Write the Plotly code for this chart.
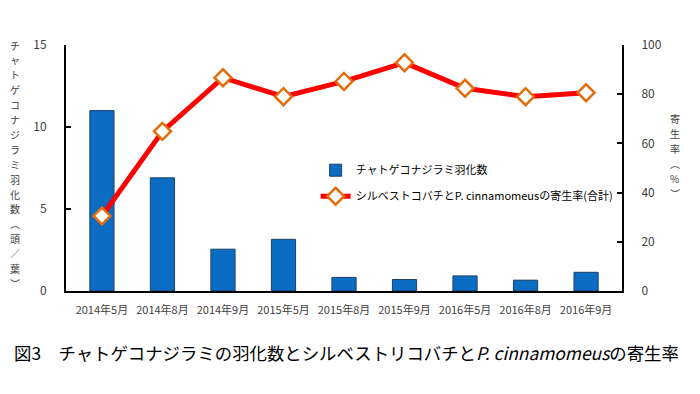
import plotly.graph_objects as go

categories = ["2014年5月", "2014年8月", "2014年9月", "2015年5月", "2015年8月",
              "2015年9月", "2016年5月", "2016年8月", "2016年9月"]
emergence = [11.0, 6.9, 2.55, 3.15, 0.83, 0.7, 0.92, 0.66, 1.14]
parasitism = [30.5, 64.9, 86.7, 79.0, 85.2, 92.8, 82.4, 79.0, 80.6]

bar_name = "チャトゲコナジラミ羽化数"
line_name = "シルベストコバチとP. cinnamomeusの寄生率(合計)"
left_title = list("チャトゲコナジラミ羽化数︵頭／葉︶")
right_title = list("寄生率︵%︶")
caption = "図3　チャトゲコナジラミの羽化数とシルベストリコバチと<i>P. cinnamomeus</i>の寄生率"

FONT = "Noto Sans CJK JP"
TICK = "#404040"

fig = go.Figure()
fig.add_trace(go.Bar(
    x=categories, y=emergence, name=bar_name, legendgroup="a",
    marker=dict(color="#0A6CC2", line=dict(color="#1F3F66", width=1)),
    yaxis="y",
))
fig.add_trace(go.Scatter(
    x=categories, y=parasitism, name=line_name, mode="lines+markers",
    legendgroup="b",
    line=dict(color="#FF0000", width=5),
    marker=dict(symbol="diamond", size=13, color="white",
                line=dict(color="#E46C0A", width=2.5)),
    yaxis="y2",
))

fig.update_layout(
    width=700, height=394,
    margin=dict(l=66, r=78, t=45, b=103, autoexpand=False),
    paper_bgcolor="white", plot_bgcolor="white",
    font=dict(family=FONT, color="black"),
    bargap=0.6,
    showlegend=True,
    legend=dict(x=0.449, y=0.55, xanchor="left", yanchor="top",
                bgcolor="rgba(0,0,0,0)", font=dict(size=11, color="black"),
                itemwidth=30, tracegroupgap=7, traceorder="grouped"),
    xaxis=dict(showline=True, linecolor="black", linewidth=2, ticks="",
               showgrid=False, tickfont=dict(size=11, color=TICK),
               ticklabelstandoff=8),
    yaxis=dict(range=[0, 15], tickvals=[0, 5, 10, 15], showline=True,
               linecolor="black", linewidth=2, ticks="inside", ticklen=5,
               tickcolor="black", tickwidth=2, showgrid=False, zeroline=False,
               tickfont=dict(size=12, color=TICK), ticklabelstandoff=15),
    yaxis2=dict(range=[0, 100], tickvals=[0, 20, 40, 60, 80, 100],
                overlaying="y", side="right", showline=True, linecolor="black",
                linewidth=2, ticks="inside", ticklen=5, tickcolor="black",
                tickwidth=2, showgrid=False, zeroline=False,
                tickfont=dict(size=12, color=TICK), ticklabelstandoff=15),
)

plot_h = 394 - 45 - 103
for i, ch in enumerate(left_title):
    fig.add_annotation(text=ch, xref="paper", yref="paper", x=-0.092, y=1.0,
                       yshift=-14.9 * i, showarrow=False, xanchor="center",
                       yanchor="middle", font=dict(size=10, color=TICK))
for i, ch in enumerate(right_title):
    fig.add_annotation(text=ch, xref="paper", yref="paper", x=1.095,
                       y=(291 - 118) / plot_h, yshift=-15 * i, showarrow=False,
                       xanchor="center", yanchor="middle",
                       font=dict(size=10, color=TICK))

fig.add_annotation(text=caption, xref="paper", yref="paper",
                   x=(12 - 66) / 556, y=(291 - 352) / plot_h, xanchor="left",
                   yanchor="middle", showarrow=False,
                   font=dict(size=17.4, color="black"))

fig.write_html("out.html", config={"displayModeBar": False},
               post_script="document.body.style.margin='0';document.body.style.padding='0';")
